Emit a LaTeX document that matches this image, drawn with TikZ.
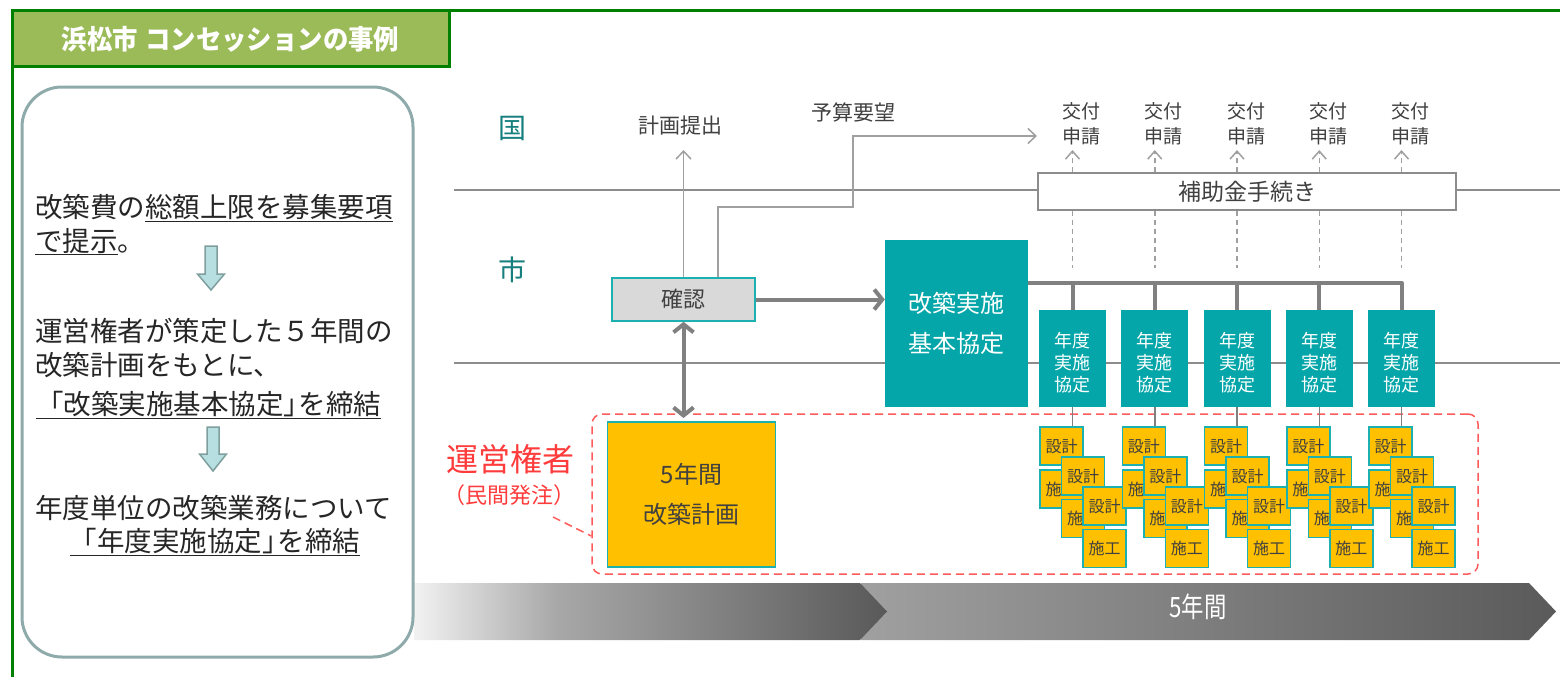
\documentclass[tikz,border=0pt]{standalone}
\usepackage{fontspec}
\setmainfont{Noto Sans CJK JP}
\usepackage{graphicx}
\usetikzlibrary{arrows.meta}
\definecolor{grn}{HTML}{008000}
\definecolor{hdr}{HTML}{9BBB59}
\definecolor{pbord}{HTML}{8FAAAA}
\definecolor{ptxt}{HTML}{262626}
\definecolor{arrf}{HTML}{B7DEE0}
\definecolor{arrb}{HTML}{7F9F9F}
\definecolor{tealt}{HTML}{17807E}
\definecolor{tealf}{HTML}{05A6A9}
\definecolor{tealb}{HTML}{1DB0B0}
\definecolor{lgray}{HTML}{8C8C8C}
\definecolor{agray}{HTML}{A0A0A0}
\definecolor{tgray}{HTML}{808080}
\definecolor{dtext}{HTML}{404040}
\definecolor{kgray}{HTML}{D9D9D9}
\definecolor{yel}{HTML}{FFC000}
\definecolor{redd}{HTML}{FF5B5B}
\definecolor{redt}{HTML}{FF3B3B}
\definecolor{cla}{HTML}{F2F2F2}
\definecolor{clb}{HTML}{A8A8A8}
\definecolor{clc}{HTML}{595959}
\definecolor{cra}{HTML}{A0A0A0}
\definecolor{crb}{HTML}{5A5A5A}
\pgfdeclarehorizontalshading{lchev}{100bp}{color(0bp)=(cla); color(25bp)=(cla); color(40bp)=(clb); color(75bp)=(clc); color(100bp)=(clc)}
\pgfdeclarehorizontalshading{rchev}{100bp}{color(0bp)=(cra); color(25bp)=(cra); color(75bp)=(crb); color(100bp)=(crb)}
\newcommand\jfs[1]{\fontsize{#1}{#1}\selectfont}
\begin{document}
\begin{tikzpicture}[x=1pt,y=-1pt,
  ptext/.style={anchor=base west, font=\jfs{27.5}, text=ptxt, inner sep=0pt},
  lane/.style={draw=lgray, line width=2pt},
  thinarrow/.style={draw=agray, line width=1.5pt, -{Straight Barb[length=8pt,width=15pt]}},
  dasharrow/.style={draw=agray, line width=1.5pt, dash pattern=on 5pt off 4pt, -{Straight Barb[length=8pt,width=14pt]}},
  dashline/.style={draw=agray, line width=1.5pt, dash pattern=on 5pt off 4pt},
  thickline/.style={draw=tgray, line width=4pt},
  thickarrow/.style={draw=tgray, line width=4pt, -{Straight Barb[length=8pt,width=20pt]}},
  thickboth/.style={draw=tgray, line width=4pt, {Straight Barb[length=8pt,width=20pt]}-{Straight Barb[length=8pt,width=20pt]}},
  label/.style={text=dtext, inner sep=0pt},
  nendobox/.style={fill=tealf, minimum width=67pt, minimum height=97pt, inner sep=0pt},
  nendotext/.style={text=white, align=center, inner sep=0pt, font=\fontsize{18}{22}\selectfont},
  smallbox/.style={fill=yel, draw=tealb, line width=1.5pt, minimum width=43pt, minimum height=38pt, inner sep=0pt, text=dtext, font=\jfs{16}},
  blockarrow/.style={fill=arrf, draw=arrb, line width=1.5pt, line join=miter}
]
\useasboundingbox (0,0) rectangle (1560,677);
\fill[white] (0,0) rectangle (1560,677);

% frame and header
\draw[grn, line width=3pt] (12,677) -- (12,11) -- (1560,11);
\node[draw=grn, fill=hdr, line width=3pt, minimum width=437pt, minimum height=56pt, inner sep=0pt,
      text=white, font=\jfs{27}\bfseries] (hdr) at (230.5,39) {\scalebox{0.94}[1]{浜松市\hspace{8pt}コンセッションの事例}};

% bottom chevrons
\shade[shading=rchev] (861,583) -- (1529,583) -- (1556,611.5) -- (1529,640) -- (861,640) -- cycle;
\shade[shading=lchev] (414,583) -- (860,583) -- (887,611.5) -- (860,640) -- (414,640) -- cycle;
\node[text=white, font=\jfs{28}] (gonen) at (1198,607) {\scalebox{0.8}[1]{5年間}};

% left panel
\node[draw=pbord, fill=white, line width=3pt, rounded corners=40pt, minimum width=391pt, minimum height=570pt, inner sep=0pt] (panel) at (217.5,372) {};
\node[ptext] (t1) at (35,217) {改築費の\underline{総額上限を募集要項}};
\node[ptext] (t2) at (35,251) {\underline{で提示}。};
\draw[blockarrow] (205,246) -- (217,246) -- (217,274) -- (224.5,274) -- (211,290) -- (197.5,274) -- (205,274) -- cycle;
\node[ptext] (t3) at (35,341) {運営権者が策定した５年間の};
\node[ptext] (t4) at (35,375) {改築計画をもとに、};
\node[ptext] (t5) at (36,414) {\underline{「改築実施基本協定」\kern-0.45em を締結}};
\draw[blockarrow] (207,427) -- (219,427) -- (219,454) -- (226.5,454) -- (213,471) -- (199.5,454) -- (207,454) -- cycle;
\node[ptext] (t6) at (35,518) {年度単位の改築業務について};
\node[ptext, anchor=base] (t7) at (215,551) {\underline{「年度実施協定」\kern-0.45em を締結}};

% lanes
\draw[lane] (454,190) -- (1560,190);
\draw[lane] (454,363) -- (1560,363);
\node[text=tealt, font=\jfs{28}] (kuni) at (512,128) {国};
\node[text=tealt, font=\jfs{28}] (shi) at (512,270) {市};

% subsidy box
\node[draw=lgray, fill=white, line width=1.5pt, minimum width=418pt, minimum height=37pt, inner sep=0pt,
      text=dtext, font=\jfs{23}] (hojo) at (1247,191.5) {補助金手続き};

% kakunin
\node[draw=tealb, fill=kgray, line width=1.5pt, minimum width=143pt, minimum height=43pt, inner sep=0pt,
      text=dtext, font=\jfs{22}] (kakunin) at (683.5,299.5) {確認};
\node[label, font=\jfs{21}] (keikaku) at (680,126) {計画提出};
\coordinate (kt) at (683.5,150);
\draw[thinarrow] (kakunin.north) -- (kt);
\node[label, font=\jfs{21}] (yosan) at (853,112) {予算要望};
\coordinate (yt) at (1037,136);
\draw[thinarrow] ([xshift=34.5pt]kakunin.north) -- (718,207) -- (853,207) -- (853,136) -- (yt);

% kihon
\node[fill=tealf, minimum width=143pt, minimum height=167pt, inner sep=0pt, text=white, align=center,
      font=\fontsize{24}{40}\selectfont] (kihon) at (956.5,323.5) {改築実施\\基本協定};
\draw[thickarrow] (kakunin.east) -- (kakunin.east -| kihon.west);

% nendo boxes
\foreach \i in {0,...,4} {
  \pgfmathsetmacro\xx{1072.5+82.25*\i}
  \node[nendobox] (nendo\i) at (\xx,358.5) {};
  \node[nendotext] (nt\i) at (\xx,363) {年度\\実施\\協定};
  \coordinate (ko\i) at (\xx,150);
  \coordinate (dd\i) at (\xx,268);
  \draw[dasharrow] (hojo.north -| nendo\i) -- (ko\i);
  \draw[dashline] (hojo.south -| nendo\i) -- (dd\i);
  \node[label, align=center, font=\fontsize{19}{25}\selectfont] (kofu\i) at (\xx+9,124) {交付\\申請};
}
\draw[thickline, line join=round] (kihon.east |- 0,283) -- (nendo4.north |- 0,283) -- (nendo4.north);
\foreach \i in {0,...,3} {
  \draw[thickline] (nendo\i.north |- 0,283) -- (nendo\i.north);
}

% red region
\node[draw=redd, dash pattern=on 8pt off 5pt, line width=1.5pt, rounded corners=10pt, minimum width=886pt, minimum height=160pt, inner sep=0pt] (unei) at (1035,494) {};
\node[text=redt, font=\jfs{32}] (ulab) at (510,459) {運営権者};
\node[text=redt, font=\jfs{22}] (ulab2) at (509,495) {（民間発注）};
\coordinate (ls) at (553,517);
\draw[draw=redd, dash pattern=on 8pt off 5pt, line width=1.5pt] (ls) -- (unei.west |- 0,536);

% plan box
\node[fill=yel, draw=tealb, line width=1.5pt, minimum width=168pt, minimum height=145pt, inner sep=0pt, text=dtext, align=center,
      font=\fontsize{24}{40}\selectfont] (plan) at (691.5,494.5) {5年間\\改築計画};
\coordinate (da) at (683.5,418);
\draw[thickboth] (kakunin.south) -- (da);

% stacks
\foreach \i in {0,...,4} {
  \pgfmathsetmacro\xo{1040+82.25*\i}
  \node[smallbox] (sa\i) at (\xo+21.5,446) {設計};
  \node[smallbox] (wa\i) at (\xo+21.5,489) {施工};
  \node[smallbox] (sb\i) at (\xo+43,476) {設計};
  \node[smallbox] (wb\i) at (\xo+43,518.5) {施工};
  \node[smallbox] (sc\i) at (\xo+64.5,506) {設計};
  \node[smallbox] (wc\i) at (\xo+64.5,548.5) {施工};
  \draw[draw=tgray, line width=1.5pt] (nendo\i.south) -- (nendo\i.south |- sa\i.north);
}
\end{tikzpicture}
\end{document}
